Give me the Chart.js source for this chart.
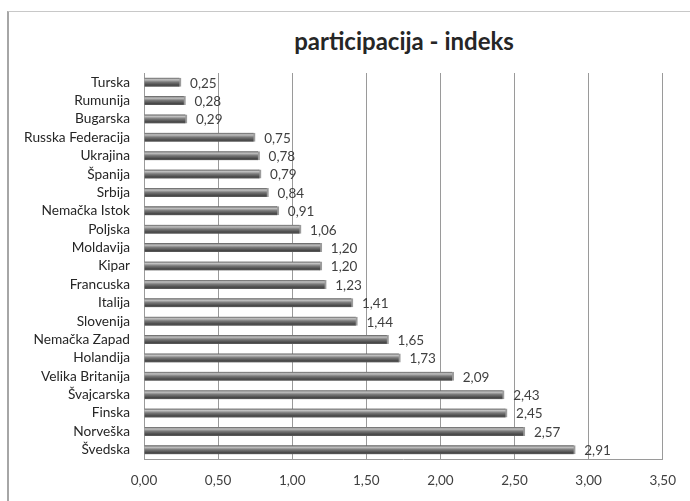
<!DOCTYPE html>
<html><head><meta charset="utf-8">
<script src="https://cdn.jsdelivr.net/npm/chart.js@4"></script>
<style>
html,body{margin:0;padding:0;background:#fff;}
#wrap{position:relative;width:690px;height:501px;overflow:hidden;}
#frame{position:absolute;left:7px;top:11px;width:700px;height:520px;border-left:2px solid #a6a6a6;border-top:1px solid #c8c8c8;}
#title{position:absolute;left:254px;top:26px;width:300px;text-align:center;font:bold 24px Lato, sans-serif;color:#262626;}
canvas{position:absolute;left:0;top:0;}
</style></head><body>
<div id="wrap"><div id="frame"></div><div id="title">participacija - indeks</div><canvas id="c" width="690" height="501"></canvas></div>
<script>
const categories = ["Turska","Rumunija","Bugarska","Russka Federacija","Ukrajina","Španija","Srbija","Nemačka Istok","Poljska","Moldavija","Kipar","Francuska","Italija","Slovenija","Nemačka Zapad","Holandija","Velika Britanija","Švajcarska","Finska","Norveška","Švedska"];
const values = [0.25,0.28,0.29,0.75,0.78,0.79,0.84,0.91,1.06,1.20,1.20,1.23,1.41,1.44,1.65,1.73,2.09,2.43,2.45,2.57,2.91];
const axisMin = 0, axisMax = 3.5, axisStep = 0.5;

const fmt = v => v.toFixed(2).replace('.', ',');
const FONT = 'Lato, sans-serif';

const labelPlugin = {
  id: 'valueLabels',
  afterDatasetsDraw(chart) {
    const ctx = chart.ctx;
    const meta = chart.getDatasetMeta(0);
    ctx.save();
    ctx.font = '13.5px ' + FONT;
    ctx.fillStyle = '#404040';
    ctx.textBaseline = 'middle';
    ctx.textAlign = 'left';
    meta.data.forEach((el, i) => {
      ctx.fillText(fmt(values[i]), el.x + 9, el.y + 1);
    });
    ctx.restore();
  }
};

new Chart(document.getElementById('c'), {
  type: 'bar',
  data: {
    labels: categories,
    datasets: [{
      data: values,
      barThickness: 9,
      backgroundColor: (c) => {
        const ch = c.chart;
        if (!ch.chartArea || !ch.scales.y) return '#666';
        const y = ch.scales.y.getPixelForValue(c.dataIndex);
        const g = ch.ctx.createLinearGradient(0, y - 4.5, 0, y + 4.5);
        g.addColorStop(0, '#5c5c5c');
        g.addColorStop(0.22, '#c2c2c2');
        g.addColorStop(0.48, '#7a7a7a');
        g.addColorStop(0.82, '#474747');
        g.addColorStop(1, '#5e5e5e');
        return g;
      },
      borderColor: '#9c9c9c',
      borderWidth: {top: 0, bottom: 0, left: 0, right: 2},
      borderSkipped: 'start'
    }]
  },
  options: {
    indexAxis: 'y',
    responsive: false,
    animation: false,
    layout: {padding: {top: 73, right: 21, left: 0, bottom: 0}},
    plugins: {legend: {display: false}, tooltip: {enabled: false}, title: {display: false}},
    scales: {
      x: {
        min: axisMin, max: axisMax,
        ticks: {stepSize: axisStep, callback: v => fmt(v), color: '#404040', font: {family: FONT, size: 13.5}, padding: 14},
        grid: {color: '#9a9a9a', drawTicks: false},
        border: {display: true, color: '#9a9a9a'},
        afterFit: s => { s.height = 42; }
      },
      y: {
        ticks: {autoSkip: false, color: '#262626', font: {family: FONT, size: 13.7}, padding: 14},
        grid: {display: false, drawTicks: false},
        border: {display: true, color: '#9a9a9a'},
        afterFit: s => { s.width = 144; }
      }
    }
  },
  plugins: [labelPlugin]
});
</script>
</body></html>
